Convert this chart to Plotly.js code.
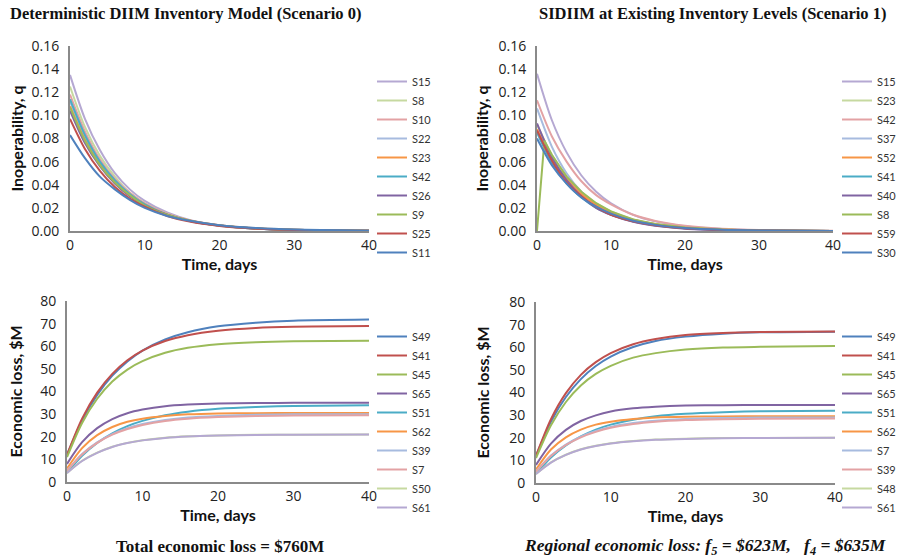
<!DOCTYPE html>
<html>
<head>
<meta charset="utf-8">
<script src="https://cdn.plot.ly/plotly-3.0.1.min.js"></script>
<style>html,body{margin:0;padding:0;background:#fff;}#chart{width:911px;height:559px;}</style>
</head>
<body>
<div id="chart"></div>
<script>
// ---------- data ----------
const days = [0, 2, 4, 6, 8, 10, 13, 16, 20, 25, 30, 40];
const daysS8R = [0, 1, 2, 4, 6, 8, 10, 13, 16, 20, 25, 30, 40];

// Panel 1: Deterministic DIIM, inoperability
const p1Names = ['S15', 'S8', 'S10', 'S22', 'S23', 'S42', 'S26', 'S9', 'S25', 'S11'];
const p1_S15 = [0.135, 0.097, 0.070, 0.050, 0.036, 0.026, 0.016, 0.0096, 0.0050, 0.0022, 0.0010, 0.0002];
const p1_S8  = [0.125, 0.090, 0.065, 0.047, 0.033, 0.024, 0.015, 0.0089, 0.0046, 0.0020, 0.0009, 0.0002];
const p1_S10 = [0.118, 0.086, 0.062, 0.045, 0.033, 0.024, 0.015, 0.0091, 0.0048, 0.0021, 0.0010, 0.0002];
const p1_S22 = [0.112, 0.081, 0.059, 0.043, 0.031, 0.023, 0.014, 0.0086, 0.0046, 0.0020, 0.0009, 0.0002];
const p1_S23 = [0.108, 0.079, 0.058, 0.043, 0.031, 0.023, 0.014, 0.0091, 0.0049, 0.0023, 0.0010, 0.0002];
const p1_S42 = [0.114, 0.083, 0.060, 0.044, 0.032, 0.023, 0.014, 0.0088, 0.0047, 0.0020, 0.0009, 0.0002];
const p1_S26 = [0.104, 0.076, 0.056, 0.041, 0.030, 0.022, 0.014, 0.0087, 0.0047, 0.0022, 0.0010, 0.0002];
const p1_S9  = [0.107, 0.078, 0.057, 0.042, 0.031, 0.022, 0.014, 0.0088, 0.0047, 0.0021, 0.0010, 0.0002];
const p1_S25 = [0.097, 0.071, 0.052, 0.038, 0.028, 0.021, 0.013, 0.0081, 0.0044, 0.0020, 0.0009, 0.0002];
const p1_S11 = [0.083, 0.063, 0.047, 0.036, 0.027, 0.020, 0.013, 0.0088, 0.0050, 0.0025, 0.0012, 0.0003];

// Panel 2: SIDIIM, inoperability
const p2Names = ['S15', 'S23', 'S42', 'S37', 'S52', 'S41', 'S40', 'S8', 'S59', 'S30'];
const p2_S15 = [0.136, 0.096, 0.068, 0.048, 0.034, 0.024, 0.014, 0.0083, 0.0041, 0.0017, 0.0007, 0.0001];
const p2_S23 = [0.092, 0.066, 0.047, 0.033, 0.024, 0.017, 0.010, 0.0061, 0.0030, 0.0013, 0.0006, 0.0001];
const p2_S42 = [0.113, 0.082, 0.060, 0.043, 0.031, 0.023, 0.014, 0.0087, 0.0046, 0.0020, 0.0009, 0.0002];
const p2_S37 = [0.106, 0.073, 0.050, 0.034, 0.023, 0.016, 0.009, 0.0051, 0.0024, 0.0009, 0.0004, 0.0001];
const p2_S52 = [0.088, 0.063, 0.045, 0.032, 0.023, 0.016, 0.0097, 0.0058, 0.0029, 0.0012, 0.0005, 0.0001];
const p2_S41 = [0.085, 0.059, 0.041, 0.029, 0.020, 0.014, 0.0082, 0.0048, 0.0023, 0.0009, 0.0004, 0.0001];
const p2_S40 = [0.093, 0.064, 0.044, 0.030, 0.020, 0.014, 0.0079, 0.0045, 0.0020, 0.0008, 0.0003, 0.0000];
const p2_S8  = [0.000, 0.078, 0.066, 0.047, 0.034, 0.024, 0.017, 0.010, 0.006, 0.003, 0.0013, 0.0005, 0.0001];
const p2_S59 = [0.087, 0.061, 0.042, 0.030, 0.021, 0.014, 0.0084, 0.0049, 0.0023, 0.0009, 0.0004, 0.0001];
const p2_S30 = [0.080, 0.057, 0.041, 0.029, 0.021, 0.015, 0.0088, 0.0053, 0.0026, 0.0011, 0.0005, 0.0001];

// Panel 3: Deterministic DIIM, economic loss ($M)
const p3Names = ['S49', 'S41', 'S45', 'S65', 'S51', 'S62', 'S39', 'S7', 'S50', 'S61'];
const p3_S49 = [12, 27.2, 38.5, 47.0, 53.3, 58.1, 63.0, 66.2, 68.8, 70.4, 71.3, 71.8];
const p3_S41 = [12, 28.0, 39.5, 47.8, 53.8, 58.1, 62.3, 64.9, 66.9, 68.1, 68.6, 68.9];
const p3_S45 = [11, 26.1, 36.8, 44.4, 49.7, 53.4, 57.1, 59.3, 60.9, 61.8, 62.2, 62.4];
const p3_S65 = [8, 17.6, 23.8, 27.8, 30.4, 32.0, 33.5, 34.2, 34.7, 34.9, 35.0, 35.0];
const p3_S51 = [4, 11.6, 17.3, 21.5, 24.7, 27.0, 29.5, 31.1, 32.4, 33.2, 33.6, 33.9];
const p3_S62 = [6, 15.0, 20.7, 24.3, 26.6, 28.0, 29.2, 29.9, 30.3, 30.4, 30.5, 30.5];
const p3_S39 = [5, 12.4, 17.5, 21.2, 23.8, 25.6, 27.4, 28.5, 29.2, 29.7, 29.9, 30.0];
const p3_S7  = [5, 12.2, 17.3, 20.9, 23.4, 25.2, 27.0, 28.0, 28.7, 29.2, 29.4, 29.5];
const p3_S50 = [4, 9.4, 13.0, 15.6, 17.3, 18.5, 19.6, 20.2, 20.6, 20.9, 20.9, 21.0];
const p3_S61 = [4, 9.3, 12.9, 15.5, 17.2, 18.4, 19.5, 20.1, 20.5, 20.8, 20.9, 21.0];

// Panel 4: SIDIIM, economic loss ($M)
const p4Names = ['S49', 'S41', 'S45', 'S65', 'S51', 'S62', 'S7', 'S39', 'S48', 'S61'];
const p4_S49 = [12, 27.1, 38.0, 45.9, 51.7, 55.9, 60.1, 62.8, 64.7, 66.0, 66.6, 66.9];
const p4_S41 = [12, 28.2, 39.7, 47.8, 53.4, 57.4, 61.3, 63.6, 65.4, 66.3, 66.7, 67.0];
const p4_S45 = [11, 25.5, 35.8, 43.1, 48.2, 51.8, 55.4, 57.4, 59.0, 59.9, 60.2, 60.5];
const p4_S65 = [8, 17.4, 23.5, 27.4, 29.9, 31.6, 33.0, 33.7, 34.2, 34.4, 34.5, 34.5];
const p4_S51 = [4, 11.3, 16.6, 20.6, 23.6, 25.8, 28.0, 29.5, 30.6, 31.3, 31.7, 31.9];
const p4_S62 = [6, 14.8, 20.2, 23.6, 25.8, 27.1, 28.3, 29.0, 29.3, 29.4, 29.5, 29.5];
const p4_S7  = [5, 12.1, 17.0, 20.5, 23.0, 24.8, 26.5, 27.5, 28.3, 28.7, 28.9, 29.0];
const p4_S39 = [5, 11.9, 16.8, 20.2, 22.6, 24.4, 26.1, 27.1, 27.8, 28.2, 28.4, 28.5];
const p4_S48 = [4, 9.1, 12.5, 14.9, 16.5, 17.6, 18.6, 19.2, 19.6, 19.9, 19.9, 20.0];
const p4_S61 = [4, 9.0, 12.4, 14.8, 16.4, 17.5, 18.5, 19.1, 19.5, 19.8, 19.9, 20.0];

const panelTitles = ['Deterministic DIIM Inventory Model (Scenario 0)', 'SIDIIM at Existing Inventory Levels (Scenario 1)'];
const captionLeft = 'Total economic loss = $760M';
const captionRight = '<i>Regional economic loss: f<sub>5</sub> = $623M,&nbsp;&nbsp;&nbsp;f<sub>4</sub> = $635M</i>';

// ---------- styles ----------
const cBlue = '#4F81BD', cRed = '#C0504D', cGreen = '#9BBB59', cPurple = '#8064A2',
      cAqua = '#4BACC6', cOrange = '#F79646', cLBlue = '#A7BBDF', cPink = '#E3A2A4',
      cLGreen = '#C6D9A0', cLav = '#B5A8D2';

function mk(x, y, name, color, xa, ya, leg, shape) {
  return {
    x: x, y: y, name: name, type: 'scatter', mode: 'lines',
    line: {color: color, width: 2, shape: shape || 'spline', smoothing: 0.8},
    xaxis: xa, yaxis: ya, legend: leg, hoverinfo: 'skip'
  };
}

const p1Series = [p1_S15, p1_S8, p1_S10, p1_S22, p1_S23, p1_S42, p1_S26, p1_S9, p1_S25, p1_S11];
const p1Colors = [cLav, cLGreen, cPink, cLBlue, cOrange, cAqua, cPurple, cGreen, cRed, cBlue];
const p2Series = [p2_S15, p2_S23, p2_S42, p2_S37, p2_S52, p2_S41, p2_S40, p2_S8, p2_S59, p2_S30];
const p2Colors = [cLav, cLGreen, cPink, cLBlue, cOrange, cAqua, cPurple, cGreen, cRed, cBlue];
const p3Series = [p3_S49, p3_S41, p3_S45, p3_S65, p3_S51, p3_S62, p3_S39, p3_S7, p3_S50, p3_S61];
const p3Colors = [cBlue, cRed, cGreen, cPurple, cAqua, cOrange, cLBlue, cPink, cLGreen, cLav];
const p4Series = [p4_S49, p4_S41, p4_S45, p4_S65, p4_S51, p4_S62, p4_S7, p4_S39, p4_S48, p4_S61];
const p4Colors = [cBlue, cRed, cGreen, cPurple, cAqua, cOrange, cLBlue, cPink, cLGreen, cLav];

const traces = [];
p1Names.forEach((n, i) => traces.push(mk(days, p1Series[i], n, p1Colors[i], 'x', 'y', 'legend')));
p2Names.forEach((n, i) => {
  if (n === 'S8') traces.push(mk(daysS8R, p2Series[i], n, p2Colors[i], 'x2', 'y2', 'legend2', 'linear'));
  else traces.push(mk(days, p2Series[i], n, p2Colors[i], 'x2', 'y2', 'legend2'));
});
p3Names.forEach((n, i) => traces.push(mk(days, p3Series[i], n, p3Colors[i], 'x3', 'y3', 'legend3')));
p4Names.forEach((n, i) => traces.push(mk(days, p4Series[i], n, p4Colors[i], 'x4', 'y4', 'legend4')));

const W = 911, H = 559;
const px = v => v / W, py = v => 1 - v / H;

const tickFont = {family: 'Open Sans, sans-serif', size: 14, color: '#222'};
const titleFont = {family: 'Lato, sans-serif', size: 16, color: '#111', weight: 'bold'};
const lineCol = '#8a8a8a';

function xax(d0, d1, anchor) {
  return {
    domain: [px(d0), px(d1)], anchor: anchor, range: [0, 40], dtick: 10, tick0: 0,
    showgrid: false, zeroline: false, showline: true, linecolor: lineCol, linewidth: 2,
    ticks: '', tickfont: tickFont, layer: 'below traces', fixedrange: true,
    title: {text: 'Time, days', font: titleFont, standoff: 1}
  };
}
function yax(d0, d1, anchor, range, dtick, fmt, title, standoff) {
  return {
    domain: [py(d1), py(d0)], anchor: anchor, range: range, dtick: dtick, tick0: 0,
    tickformat: fmt, showgrid: false, zeroline: false, showline: true, linecolor: lineCol,
    linewidth: 2, ticks: '', tickfont: tickFont, ticklabelstandoff: 6,
    layer: 'below traces', fixedrange: true,
    title: {text: title, font: titleFont, standoff: standoff}
  };
}
function leg(x, y) {
  return {
    x: px(x), y: py(y), xanchor: 'left', yanchor: 'top', bgcolor: 'rgba(0,0,0,0)',
    font: {family: 'Lato, sans-serif', size: 11, color: '#333'}, itemwidth: 30,
    tracegroupgap: 0, traceorder: 'normal', itemclick: false
  };
}
function ann(text, x, y, size) {
  return {text: '<b>' + text + '</b>', x: px(x), y: py(y), xref: 'paper', yref: 'paper',
          xanchor: 'center', yanchor: 'middle', showarrow: false,
          font: {family: 'Liberation Serif, serif', size: size, color: '#111'}};
}

const layout = {
  width: W, height: H, paper_bgcolor: '#fff', plot_bgcolor: '#fff',
  margin: {l: 0, r: 0, t: 0, b: 0}, showlegend: true,
  xaxis: xax(70, 369, 'y'),
  yaxis: yax(46, 231, 'x', [0, 0.16], 0.02, '.2f', 'Inoperability, q', 4),
  xaxis2: xax(537, 833, 'y2'),
  yaxis2: yax(46, 231, 'x2', [0, 0.16], 0.02, '.2f', 'Inoperability, q', 6),
  xaxis3: xax(67, 369, 'y3'),
  yaxis3: yax(301, 482, 'x3', [0, 80], 10, 'd', 'Economic loss, $M', 14),
  xaxis4: xax(536, 835, 'y4'),
  yaxis4: yax(302, 483, 'x4', [0, 80], 10, 'd', 'Economic loss, $M', 16),
  legend: leg(372, 67),
  legend2: leg(837, 67),
  legend3: leg(372, 322),
  legend4: leg(837, 322),
  annotations: [
    ann(panelTitles[0], 185, 13, 16.5),
    ann(panelTitles[1], 712, 13, 16.5),
    ann(captionLeft, 220, 546, 17),
    ann(captionRight, 705, 546, 17.5)
  ]
};

Plotly.newPlot('chart', traces, layout, {staticPlot: true, displayModeBar: false});
</script>
</body>
</html>
